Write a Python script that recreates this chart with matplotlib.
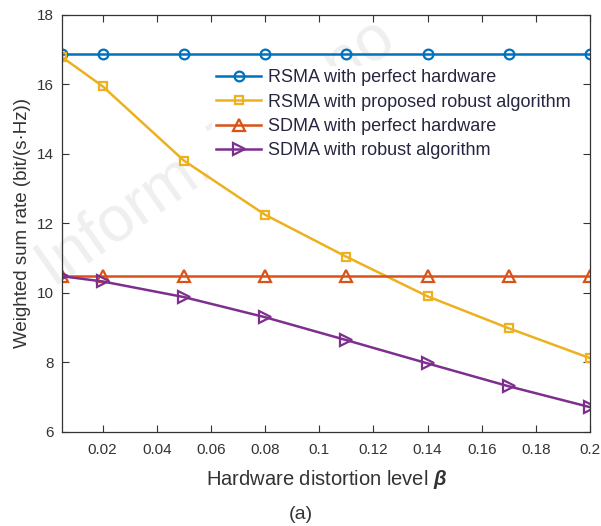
import matplotlib
matplotlib.use("Agg")
import matplotlib.pyplot as plt

plt.rcParams['font.family'] = ['Liberation Sans', 'DejaVu Sans']
plt.rcParams['mathtext.fontset'] = 'custom'
plt.rcParams['mathtext.bf'] = 'Liberation Sans:bold:italic'

beta = [0.005, 0.02, 0.05, 0.08, 0.11, 0.14, 0.17, 0.2]
rsma_perfect = [16.87, 16.87, 16.87, 16.87, 16.87, 16.87, 16.87, 16.87]
rsma_robust = [16.79, 15.95, 13.81, 12.25, 11.04, 9.90, 8.98, 8.12]
sdma_perfect = [10.48, 10.48, 10.48, 10.48, 10.48, 10.48, 10.48, 10.48]
sdma_robust = [10.48, 10.33, 9.88, 9.30, 8.64, 7.97, 7.31, 6.71]

labels = ['RSMA with perfect hardware',
          'RSMA with proposed robust algorithm',
          'SDMA with perfect hardware',
          'SDMA with robust algorithm']

xticks = [0.02, 0.04, 0.06, 0.08, 0.1, 0.12, 0.14, 0.16, 0.18, 0.2]
xticklabels = ['0.02', '0.04', '0.06', '0.08', '0.1', '0.12', '0.14', '0.16', '0.18', '0.2']
yticks = [6, 8, 10, 12, 14, 16, 18]

fig = plt.figure(figsize=(6.01, 5.26), dpi=100)
ax = fig.add_axes([0.103, 0.179, 0.879, 0.7925])
ax.patch.set_alpha(0)

# faint watermark behind the plot
fig.text(0.36, 0.71, 'Inform. Techno', fontsize=46, color='#efefef',
         rotation=35, ha='center', va='center', zorder=-5)

mk = dict(markerfacecolor='none', markeredgewidth=1.6, linewidth=1.8)
ax.plot(beta, rsma_perfect, color='#0072BD', marker='o', markersize=7, label=labels[0], **mk)
ax.plot(beta, rsma_robust, color='#EDB120', marker='s', markersize=6, label=labels[1], **mk)
ax.plot(beta, sdma_perfect, color='#D95319', marker='^', markersize=8, label=labels[2], **mk)
ax.plot(beta, sdma_robust, color='#7E2F8E', marker='>', markersize=8, label=labels[3], **mk)

ax.set_xlim(0.005, 0.2)
ax.set_ylim(6, 18)
ax.set_xticks(xticks)
ax.set_xticklabels(xticklabels)
ax.set_yticks(yticks)
ax.tick_params(direction='in', top=True, right=True, labelsize=11,
               colors='#333333', length=5, width=0.8)
ax.tick_params(axis='x', pad=8)
ax.tick_params(axis='y', pad=6)
for s in ax.spines.values():
    s.set_color('#333333')
    s.set_linewidth(0.9)

ax.set_xlabel(r'Hardware distortion level $\mathbf{\beta}$', fontsize=14.5,
              color='#333333', labelpad=8)
ax.set_ylabel('Weighted sum rate (bit/(s\u00b7Hz))', fontsize=13.5,
              color='#333333', labelpad=4)

leg = ax.legend(loc='upper left', bbox_to_anchor=(0.285, 0.878), fontsize=13,
                handlelength=2.5, handletextpad=0.4, labelspacing=0.4,
                borderaxespad=0, borderpad=0.2,
                facecolor='white', edgecolor='none', framealpha=1)
for t in leg.get_texts():
    t.set_color('#262640')

fig.text(0.5, 0.005, '(a)', fontsize=14, ha='center', va='bottom', color='#333333')

fig.savefig('out.png', dpi=100)
